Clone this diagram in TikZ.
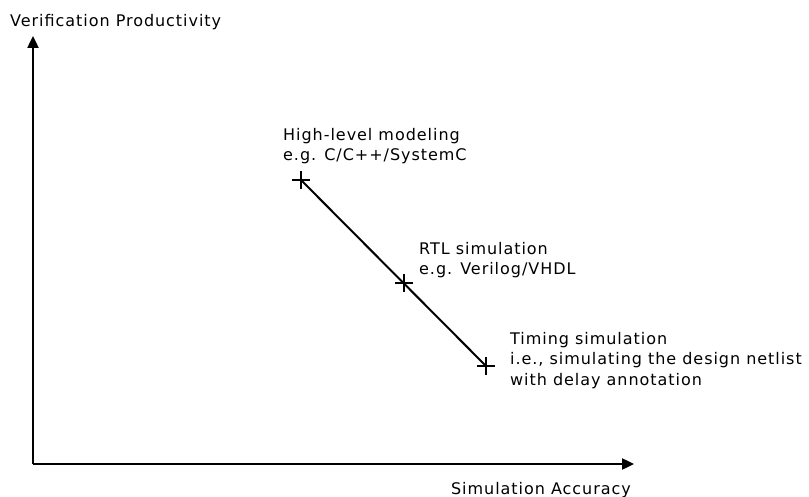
\documentclass[tikz,border=0pt]{standalone}
\usepackage{fontspec}
\setmainfont[LetterSpace=6]{DejaVu Sans}
\usetikzlibrary{arrows.meta,calc}
\begin{document}
\begin{tikzpicture}[x=1pt,y=-1pt,
  axis/.style={line width=2.4pt,-{Triangle[length=12pt,width=11pt]}},
  lbl/.style={font=\fontsize{16}{20.5}\selectfont,align=left,inner sep=0pt},
  plusmark/.style={line width=2.8pt}]
\useasboundingbox (0,0) rectangle (809,497);
\coordinate (O) at (33,464);
\coordinate (Ytip) at (33,36);
\coordinate (Xtip) at (634,464);
\draw[axis] (O) -- (Ytip);
\draw[axis] (O) -- (Xtip);
\coordinate (p1) at (301,180);
\coordinate (p2) at (404,283);
\coordinate (p3) at (486,366);
\draw[line width=2pt] (p1) -- (p3);
\foreach \p in {p1,p2,p3}{
  \draw[plusmark] ($(\p)+(-9,0)$) -- ($(\p)+(9,0)$) ($(\p)+(0,-9)$) -- ($(\p)+(0,9)$);
}
\node[lbl,anchor=base west] (yl) at (10,27) {Verification Productivity};
\node[lbl,anchor=base east] (xl) at (631,494) {Simulation Accuracy};
\node[lbl,anchor=base west] (l1) at (283,161) {High-level modeling\\e.g. C/C++/SystemC};
\node[lbl,anchor=base west] (l2) at (419,275) {RTL simulation\\e.g. Verilog/VHDL};
\node[lbl,anchor=base west] (l3) at (510,385) {Timing simulation\\i.e., simulating the design netlist\\with delay annotation};
\end{tikzpicture}
\end{document}
